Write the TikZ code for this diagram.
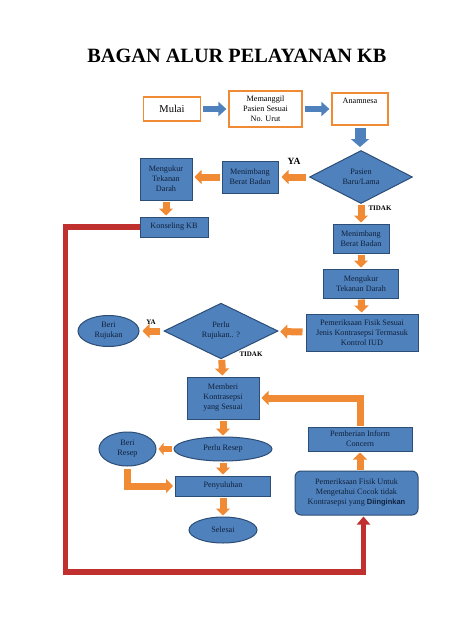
\documentclass[tikz,border=0pt]{standalone}
\usepackage{fontspec}
\setmainfont{Liberation Serif}
\newfontfamily\kbsans{Liberation Sans}
\usetikzlibrary{shapes.geometric,arrows.meta}
\definecolor{kbblue}{HTML}{4F81BD}
\definecolor{kbedge}{HTML}{2C4D75}
\definecolor{kbtext}{HTML}{10213A}
\definecolor{kborange}{HTML}{F08A35}
\definecolor{kbred}{HTML}{C0302E}

\tikzset{
  bluebox/.style={draw=kbedge, line width=1pt, fill=kbblue, text=kbtext,
    font=\fontsize{8.2}{10}\selectfont, align=center, inner sep=0pt},
  whitebox/.style={draw=kborange, line width=1.2pt, fill=white, text=black,
    font=\fontsize{8.2}{10}\selectfont, align=center, inner sep=0pt},
  bluediamond/.style={bluebox, diamond},
  blueoval/.style={bluebox, ellipse},
  blockblue/.style={draw=kbblue, line width=6pt,
    -{Triangle[width=14pt,length=8pt]}, shorten <=2pt, shorten >=2pt},
  blockorange/.style={draw=kborange, line width=7pt,
    -{Triangle[width=14pt,length=7pt]}, shorten <=2pt, shorten >=2pt},
  answer/.style={font=\bfseries\fontsize{7}{8}\selectfont, text=black}
}

\begin{document}
\begin{tikzpicture}[x=1pt,y=-1pt]
            \useasboundingbox (0,0) rectangle (474,632);

            % Define the title
            \node[font=\bfseries\fontsize{20.3}{22}\selectfont] (title) at (237,56) {BAGAN ALUR PELAYANAN KB};

            % Define the first row
            \node[whitebox, minimum width=57, minimum height=24, font=\fontsize{10.5}{12}\selectfont] (mulai) at (172,109) {Mulai};
            \node[whitebox, minimum width=73, minimum height=36] (panggil) at (265.5,109) {Memanggil\\Pasien Sesuai\\No. Urut};
            \node[whitebox, minimum width=56, minimum height=32] (anamnesa) at (360,109) {Anamnesa\\[7pt]};
            \draw[blockblue] (mulai) -- (panggil);
            \draw[blockblue] (panggil) -- (anamnesa);
            \draw[blockblue, line width=11pt, -{Triangle[width=18pt,length=8pt]}] (anamnesa) -- (anamnesa |- 0,149);

            % Define the first decision
            \node[bluediamond, minimum width=103, minimum height=53] (baru) at (361,177) {Pasien\\Baru/Lama};
            \node[bluebox, minimum width=56, minimum height=32] (timbang) at (250,177) {Menimbang\\Berat Badan};
            \node[bluebox, minimum width=52, minimum height=42] (ukur) at (166,179) {Mengukur\\Tekanan\\Darah};
            \node[bluebox, minimum width=68, minimum height=20] (konseling) at (174,227) {Konseling KB};
            \draw[blockorange, shorten <=3pt, shorten >=3pt] (baru) -- (timbang);
            \node[answer, font=\bfseries\fontsize{9.5}{10}\selectfont] (ya1) at (294,161) {YA};
            \draw[blockorange] (timbang) -- (ukur.east |- timbang.west);
            \draw[blockorange, shorten <=1pt, shorten >=1pt] (ukur.south) -- (ukur.south |- konseling.north);

            % Define the right column
            \node[bluebox, minimum width=56, minimum height=29] (timbangdua) at (361,238.5) {Menimbang\\Berat Badan};
            \node[bluebox, minimum width=75, minimum height=29] (ukurdua) at (361,283.5) {Mengukur\\Tekanan Darah};
            \node[bluebox, minimum width=112, minimum height=37] (fisik) at (362,332.5) {Pemeriksaan Fisik Sesuai\\Jenis Kontrasepsi Termasuk\\Kontrol IUD};
            \draw[blockorange, shorten <=1pt, shorten >=1pt] (baru) -- (timbangdua);
            \node[answer] (tidak1) at (380,208) {TIDAK};
            \draw[blockorange, shorten <=1pt, shorten >=1pt] (timbangdua) -- (ukurdua);
            \draw[blockorange, shorten <=1pt, shorten >=1pt] (ukurdua) -- (fisik);

            % Define the second decision
            \node[bluediamond, minimum width=114, minimum height=48] (rujukan) at (221,331) {Perlu\\Rujukan.. ?};
            \node[blueoval, minimum width=61, minimum height=31] (berirujukan) at (108.5,331) {Beri\\Rujukan};
            \draw[blockorange, shorten <=3pt, shorten >=3pt] (fisik) -- (rujukan);
            \draw[blockorange, shorten <=3pt, shorten >=3pt] (rujukan) -- (berirujukan);
            \node[answer] (ya2) at (151,322) {YA};
            \node[answer] (tidak2) at (251,354) {TIDAK};

            % Define the lower column
            \node[bluebox, minimum width=72, minimum height=42] (memberi) at (223,398) {Memberi\\Kontrasepsi\\yang Sesuai};
            \node[blueoval, minimum width=98, minimum height=24] (resep) at (223,449) {Perlu Resep};
            \node[blueoval, minimum width=57, minimum height=34] (beriresep) at (127.5,449) {Beri\\Resep};
            \node[bluebox, minimum width=95, minimum height=20] (suluh) at (223,486) {Penyuluhan};
            \node[blueoval, minimum width=68, minimum height=26] (selesai) at (223,530) {Selesai};
            \draw[blockorange, shorten <=1pt, shorten >=1pt] (rujukan) -- (memberi);
            \draw[blockorange, shorten <=1pt, shorten >=1pt] (memberi) -- (resep);
            \draw[blockorange, line width=6pt, -{Triangle[width=12pt,length=5pt]}] (resep) -- (beriresep);
            \draw[blockorange, shorten <=1pt, shorten >=1pt] (resep) -- (suluh);
            \draw[blockorange] (beriresep.south) |- (suluh.west);
            \draw[blockorange, shorten <=1pt, shorten >=1pt] (suluh) -- (selesai);

            % Define the right lower column
            \node[bluebox, rounded corners=6pt, minimum width=123, minimum height=44] (cocok) at (356.5,493) {Pemeriksaan Fisik Untuk\\Mengetahui Cocok tidak\\Kontrasepsi yang {\kbsans\bfseries\fontsize{7.5}{10}\selectfont Diinginkan}};
            \node[bluebox, minimum width=104, minimum height=24] (inform) at (360,439) {Pemberian Inform\\Concern};
            \draw[blockorange, shorten <=1pt, shorten >=1pt] (inform.south |- cocok.north) -- (inform.south);
            \draw[blockorange, shorten <=1pt] (inform.north) |- (memberi.east);

            % Define the return line
            \coordinate (sudut) at (65.5,572);
            \draw[kbred, line width=5.5pt, -{Triangle[width=13pt,length=8pt]}, shorten >=1pt] (konseling.west) -| (sudut) -| ([xshift=7pt]cocok.south);

        \end{tikzpicture}
\end{document}
